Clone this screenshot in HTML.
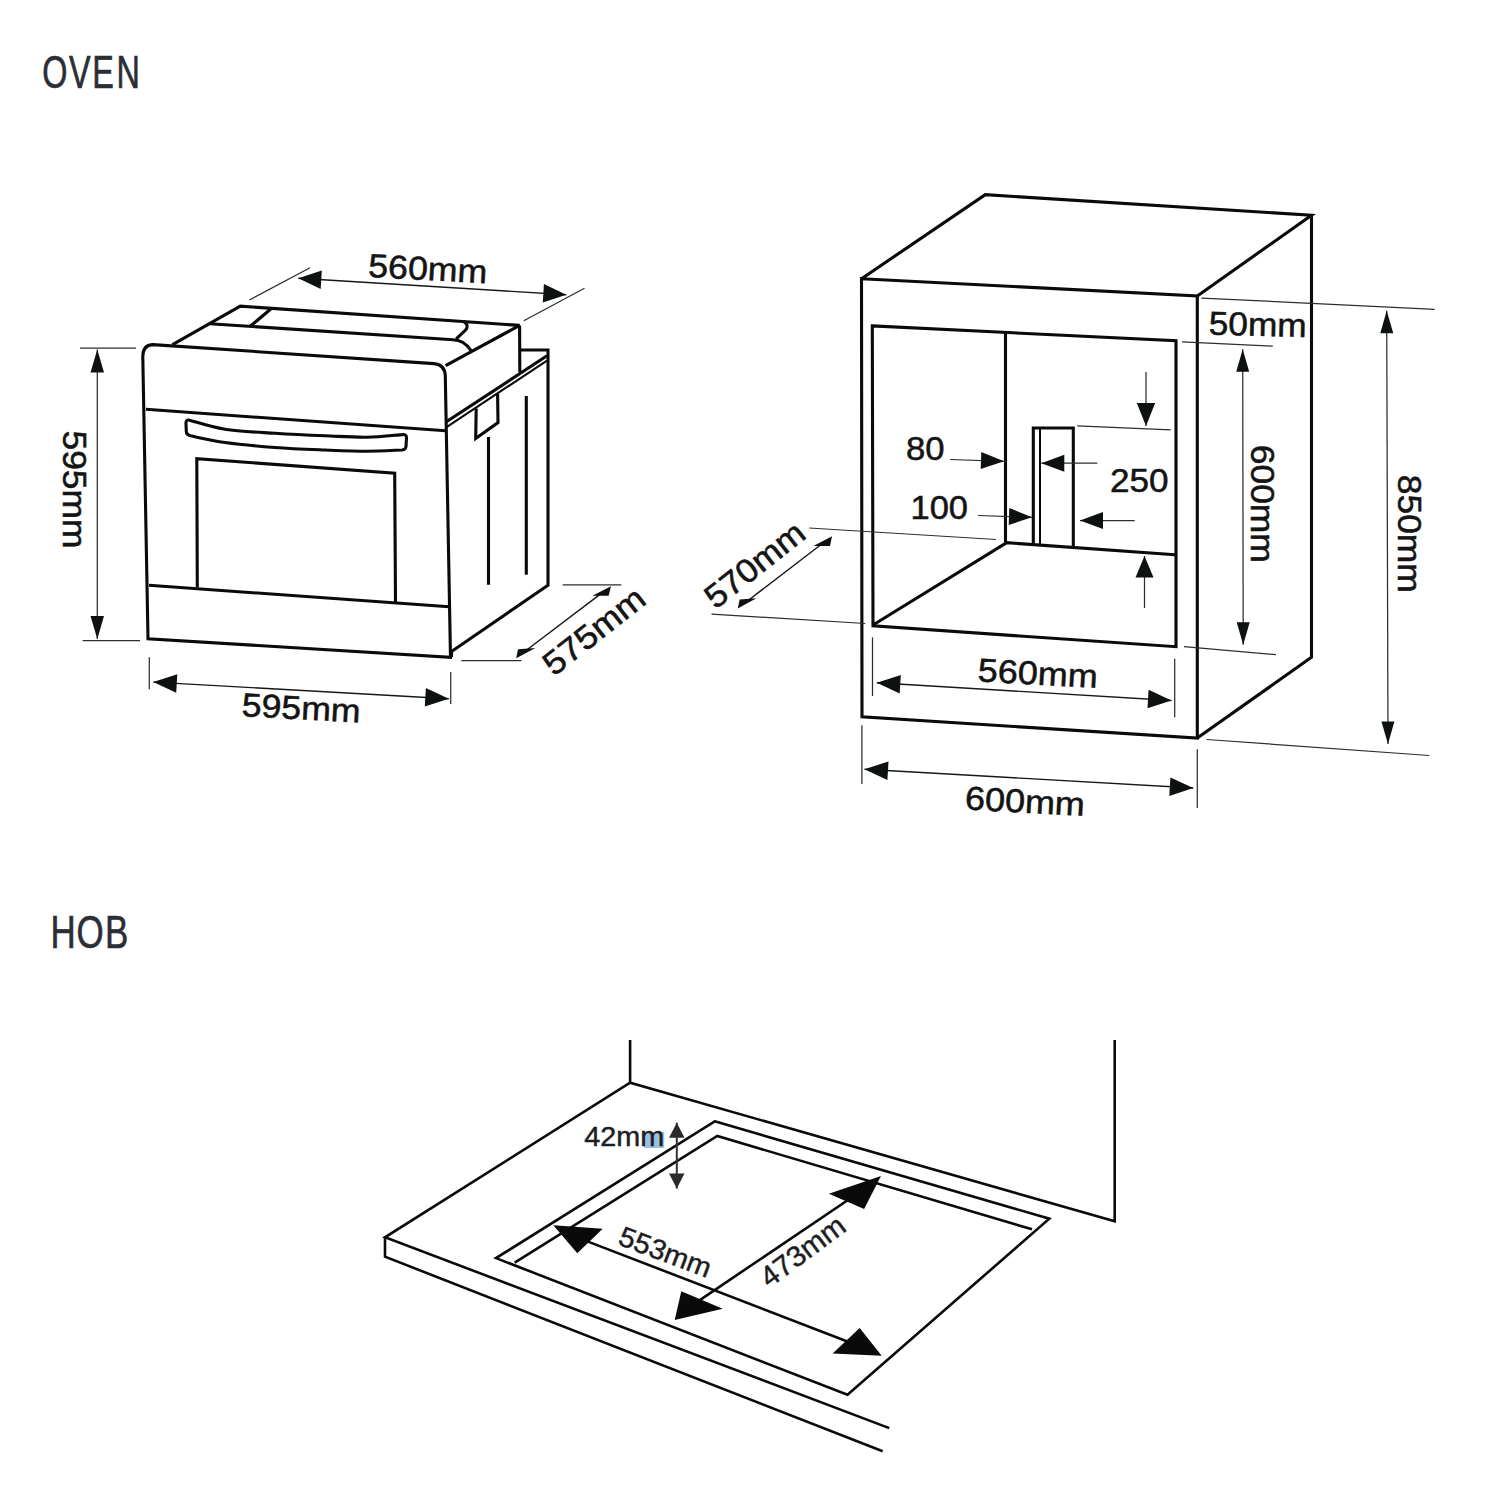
<!DOCTYPE html>
<html lang="en">
<head>
<meta charset="utf-8">
<title>Oven and hob installation dimensions</title>
<style>
html,body{margin:0;padding:0;background:#fff;}
body{width:1500px;height:1500px;overflow:hidden;}
svg{display:block;}
text{font-family:"Liberation Sans",Arial,Helvetica,sans-serif;}
.h{fill:#2b2e34;stroke:#2b2e34;stroke-width:0.6;vector-effect:non-scaling-stroke;}
.d{fill:#141414;stroke:#141414;stroke-width:0.55;}
.d2{fill:#1d1d22;stroke:#1d1d22;stroke-width:0.45;}
.k{fill:none;stroke:#0a0a0a;stroke-width:3.1;stroke-linejoin:miter;stroke-linecap:butt;}
.k2{fill:none;stroke:#0a0a0a;stroke-width:2;}
.k25{fill:none;stroke:#0a0a0a;stroke-width:2.1;}
.b{fill:none;stroke:#0a0a0a;stroke-width:2.6;stroke-linejoin:miter;}
.ba{fill:#0a0a0a;}
.t{stroke:#2a2e30;stroke-width:1.25;fill:none;}
.t2{stroke:#141818;stroke-width:1.4;fill:none;}
.a{fill:#0e1111;}
.g{stroke:#333;stroke-width:2;fill:none;}
.ga{fill:#2a2a2a;}
</style>
</head>
<body>
<svg width="1500" height="1500" viewBox="0 0 1500 1500">
<rect width="1500" height="1500" fill="#ffffff"/>
<text class="h" transform="translate(0 88.4) scale(0.695 1)" x="60.7 99.3 132.6 167.6" y="0" font-size="46.6">OVEN</text>
<text class="h" transform="translate(0 948.4) scale(0.75 1)" x="67.2 101.9 140" y="0" font-size="46.6">HOB</text>
<g id="oven">
<path class="k" d="M142.8,357 Q142.6,345 153,344.6 L434,363.6 Q445,364.5 445.3,376 L450.5,657.3 L148,638.7 Z"/>
<polyline class="k" points="146,409.3 445.6,430.8"/>
<polyline class="k" points="149,585.3 449,606.7"/>
<polyline class="k" points="197.3,587.5 196.8,458.7 394.7,473.3 395.5,602"/>
<path class="k" d="M186,423.5 Q185.6,419.3 189.5,420.2 C195.4,421.7 210.8,427 225,429.2 C239.2,431.4 258.3,432.2 275,433.3 C291.7,434.4 309.7,435.2 325,435.8 C340.3,436.4 353.8,437.4 366.7,437.2 C379.6,437 396.5,435 402.5,434.6 Q406.6,434.2 406.5,438 L406,446.5 Q405.8,449.6 402,450 C396.1,450.2 379.5,451.2 366.7,451.2 C353.9,451.2 340.3,450.6 325,450 C309.7,449.4 291.7,448.8 275,447.5 C258.3,446.2 239.1,444.4 225,442.5 C210.9,440.6 196.2,436.9 190.5,435.8 Q186.4,434.8 186.3,431.5 Z"/>
<polyline class="k" points="172.5,344.6 240.3,306.2 519.6,325.4 445.6,365.6" stroke-miterlimit="3"/>
<polyline class="k" points="209.5,323.7 453,339.8"/>
<polyline class="k" points="250.2,326.3 270.8,309"/>
<path class="k" d="M463.6,321.4 C468.2,324.5 468,327.8 465,330.6 L456.2,338.8 M452.5,339.7 C461.5,339.6 466.5,343.5 471,350.6"/>
<polyline class="k" points="519.6,325.4 519.8,372"/>
<polyline class="k" points="519.8,350 548,350 548,585.3 451.5,651.5 451.5,657"/>
<polyline class="k" points="446,422 547,355.8"/>
<polyline class="k25" points="446.2,427.3 547,360.6"/>
<polyline class="k" points="476.2,408.5 475.7,438.5 498,422.6 497.6,393.5"/>
<polyline class="k" points="488.5,437 488.5,584.8"/>
<polyline class="k" points="526.3,396 526.3,574.7"/>
<line class="t" x1="249.3" y1="300" x2="310" y2="267.7"/>
<line class="t" x1="523.8" y1="320.7" x2="584.5" y2="288.3"/>
<line class="t2" x1="298.3" y1="278.3" x2="566.3" y2="294.7"/>
<polygon class="a" points="298.3,278.3 321.8,270.5 320.7,288.9"/>
<polygon class="a" points="566.3,294.7 542.8,302.5 543.9,284.1"/>
<text class="d" transform="translate(367.8 276.8) rotate(3.2)" font-size="33" textLength="119" lengthAdjust="spacingAndGlyphs">560mm</text>
<line class="t" x1="80" y1="348" x2="136" y2="348"/>
<line class="t" x1="82.7" y1="640.5" x2="140" y2="640.5"/>
<line class="t" x1="97.3" y1="349.5" x2="97.3" y2="639"/>
<polygon class="a" points="97.3,349.5 104,372.5 90.5,372.5"/>
<polygon class="a" points="97.3,639 90.5,616 104,616"/>
<text class="d" transform="translate(62.7 430.5) rotate(90)" font-size="33" textLength="118" lengthAdjust="spacingAndGlyphs">595mm</text>
<line class="t" x1="149.3" y1="657.3" x2="149.3" y2="689.3"/>
<line class="t" x1="450.7" y1="672" x2="450.7" y2="704"/>
<line class="t2" x1="153.3" y1="682.1" x2="448.8" y2="698.7"/>
<polygon class="a" points="153.3,682.1 177.3,674.2 176.2,692.7"/>
<polygon class="a" points="448.8,698.7 424.8,706.6 425.9,688.1"/>
<text class="d" transform="translate(241.2 716) rotate(3.2)" font-size="33" textLength="119" lengthAdjust="spacingAndGlyphs">595mm</text>
<line class="t" x1="562.7" y1="584.8" x2="621.3" y2="584.8"/>
<line class="t" x1="461.3" y1="660.5" x2="521.3" y2="660.5"/>
<line class="t2" x1="523" y1="652.8" x2="604" y2="591.4"/>
<polygon class="a" points="611,586.2 592.4,595.8 608.6,595.8"/>
<polygon class="a" points="516.2,658.2 518,649.2 535.4,648"/>
<text class="d" transform="translate(553.8 677) rotate(-38.2)" font-size="33" textLength="120" lengthAdjust="spacingAndGlyphs">575mm</text>
</g>
<g id="cab">
<polygon class="k" points="861.5,278.7 1197.3,296 1197.3,738.1 862,716.8"/>
<polyline class="k" points="861.5,278.7 985.3,194.7 1311.5,215.2 1197.3,296"/>
<polyline class="k" points="1311.5,215.2 1311.5,657.3 1197.3,738.1"/>
<polygon class="k" points="872.3,325.9 1176,340.8 1176,646.7 873,625.9"/>
<polyline class="k" points="873,625 1006.7,542.7 1175,554.7"/>
<polyline class="k" points="1005.5,332.5 1005.5,542"/>
<polyline class="k" points="1033.3,544.5 1033.3,428 1073.3,428 1073.3,547.5"/>
<polyline class="k2" points="1040,429 1040,545"/>
<text class="d" x="906" y="460.3" font-size="33" textLength="38.5" lengthAdjust="spacingAndGlyphs">80</text>
<line class="t" x1="950" y1="459.5" x2="1004" y2="461.3"/>
<polygon class="a" points="1004,461.3 980.7,469 981.3,452"/>
<line class="t" x1="1097.3" y1="463.2" x2="1041.3" y2="463.2"/>
<polygon class="a" points="1041.3,463.2 1064.3,454.7 1064.3,471.7"/>
<text class="d" x="1110" y="492.3" font-size="33" textLength="58.5" lengthAdjust="spacingAndGlyphs">250</text>
<text class="d" x="910.5" y="518.8" font-size="33" textLength="57.5" lengthAdjust="spacingAndGlyphs">100</text>
<line class="t" x1="978" y1="515.5" x2="1032" y2="517.3"/>
<polygon class="a" points="1032,517.3 1008.7,525 1009.3,508"/>
<line class="t" x1="1134.7" y1="520.5" x2="1080" y2="520.5"/>
<polygon class="a" points="1080,520.5 1103,512 1103,529"/>
<line class="t" x1="1146" y1="372" x2="1146" y2="426"/>
<polygon class="a" points="1146,426 1136.8,403 1155.2,403"/>
<line class="t" x1="1077.3" y1="425.9" x2="1170.7" y2="429.9"/>
<line class="t" x1="1144.5" y1="608" x2="1144.5" y2="556"/>
<polygon class="a" points="1144.5,556 1153.5,577.5 1135.5,577.5"/>
<line class="t" x1="809.3" y1="528" x2="996" y2="539.5"/>
<line class="t" x1="711.5" y1="614.1" x2="865.3" y2="623.5"/>
<line class="t2" x1="825" y1="541.5" x2="744.5" y2="603.2"/>
<polygon class="a" points="832,536.2 813.4,546 830,546"/>
<polygon class="a" points="737.8,608.4 739.6,599.4 756.4,598.2"/>
<text class="d" transform="translate(715.5 610) rotate(-38.3)" font-size="33" textLength="117.5" lengthAdjust="spacingAndGlyphs">570mm</text>
<line class="t" x1="872.5" y1="637.3" x2="872.5" y2="696"/>
<line class="t" x1="1174.7" y1="658.7" x2="1174.7" y2="717.3"/>
<line class="t2" x1="876.8" y1="682.7" x2="1171.5" y2="700.5"/>
<polygon class="a" points="876.8,682.7 900.8,674.9 899.7,693.4"/>
<polygon class="a" points="1171.5,700.5 1147.5,708.3 1148.6,689.8"/>
<text class="d" transform="translate(977.3 681.3) rotate(3.2)" font-size="33" textLength="120" lengthAdjust="spacingAndGlyphs">560mm</text>
<line class="t" x1="861.9" y1="725.3" x2="861.9" y2="784"/>
<line class="t" x1="1197.3" y1="749.3" x2="1197.3" y2="808"/>
<line class="t2" x1="864.5" y1="769.3" x2="1193.3" y2="788"/>
<polygon class="a" points="864.5,769.3 888.5,761.4 887.4,779.9"/>
<polygon class="a" points="1193.3,788 1169.3,795.9 1170.4,777.4"/>
<text class="d" transform="translate(964.5 809.3) rotate(3.2)" font-size="33" textLength="120" lengthAdjust="spacingAndGlyphs">600mm</text>
<text class="d" transform="translate(1208.5 334.5) rotate(1.5)" font-size="33" textLength="98" lengthAdjust="spacingAndGlyphs">50mm</text>
<line class="t" x1="1201.3" y1="298.1" x2="1434.7" y2="309.3"/>
<line class="t" x1="1182.1" y1="341.9" x2="1272.8" y2="346.1"/>
<line class="t" x1="1242.7" y1="349.3" x2="1243.2" y2="644.8"/>
<polygon class="a" points="1242.7,349.3 1249.2,371.8 1236.2,371.8"/>
<polygon class="a" points="1243.2,644.8 1236.7,622.3 1249.7,622.3"/>
<line class="t" x1="1184" y1="646.7" x2="1276" y2="654.7"/>
<text class="d" transform="translate(1250.9 444.8) rotate(90)" font-size="33" textLength="118" lengthAdjust="spacingAndGlyphs">600mm</text>
<line class="t" x1="1386.7" y1="310.7" x2="1388" y2="744"/>
<polygon class="a" points="1386.7,310.7 1393.3,333.2 1380.3,333.2"/>
<polygon class="a" points="1388,744 1381.4,721.5 1394.4,721.5"/>
<line class="t" x1="1206.7" y1="739.5" x2="1429.3" y2="755.5"/>
<text class="d" transform="translate(1397.5 474.8) rotate(90)" font-size="33" textLength="118" lengthAdjust="spacingAndGlyphs">850mm</text>
</g>
<g id="hob">
<polyline class="b" points="630.1,1040 630.1,1082.7"/>
<polyline class="b" points="1114.7,1040 1114.7,1221.3 630.1,1082.7 385,1237.3 889.3,1428.1"/>
<polyline class="b" points="385,1237.3 385,1256.7 882.7,1451.3"/>
<polygon class="b" points="714.7,1121.3 1049.3,1218.7 847.5,1394.8 496,1258.1"/>
<polyline class="b" points="514.7,1262.7 717.3,1136 1032,1229.3"/>
<rect x="644" y="1132" width="20.2" height="16" fill="#98c2e1"/>
<text class="d2" x="584.3" y="1145.5" font-size="27.5" textLength="80" lengthAdjust="spacingAndGlyphs">42mm</text>
<line class="g" x1="676.8" y1="1122.7" x2="676.8" y2="1188.5"/>
<polygon class="ga" points="676.8,1122.7 684.5,1137.7 669,1137.7"/>
<polygon class="ga" points="676.8,1188.5 669,1173.5 684.5,1173.5"/>
<line class="b" x1="588" y1="1241.6" x2="848" y2="1341.7"/>
<line class="b" x1="698" y1="1301.3" x2="848" y2="1200"/>
<polygon class="ba" points="553.3,1225.3 602.7,1228.7 577.3,1253.3"/>
<polygon class="ba" points="881.7,1355.8 859.7,1327.9 832.6,1353.6"/>
<polygon class="ba" points="674.7,1320 681.3,1291.3 722.7,1308.7"/>
<polygon class="ba" points="881,1176.1 828.9,1193.7 864.1,1209.1"/>
<text class="d2" transform="translate(616.8 1244) rotate(20.7)" font-size="28" textLength="96.5" lengthAdjust="spacingAndGlyphs">553mm</text>
<text class="d2" transform="translate(769.3 1288.5) rotate(-36.7)" font-size="29" textLength="98" lengthAdjust="spacingAndGlyphs">473mm</text>
</g>
</svg>
</body>
</html>
